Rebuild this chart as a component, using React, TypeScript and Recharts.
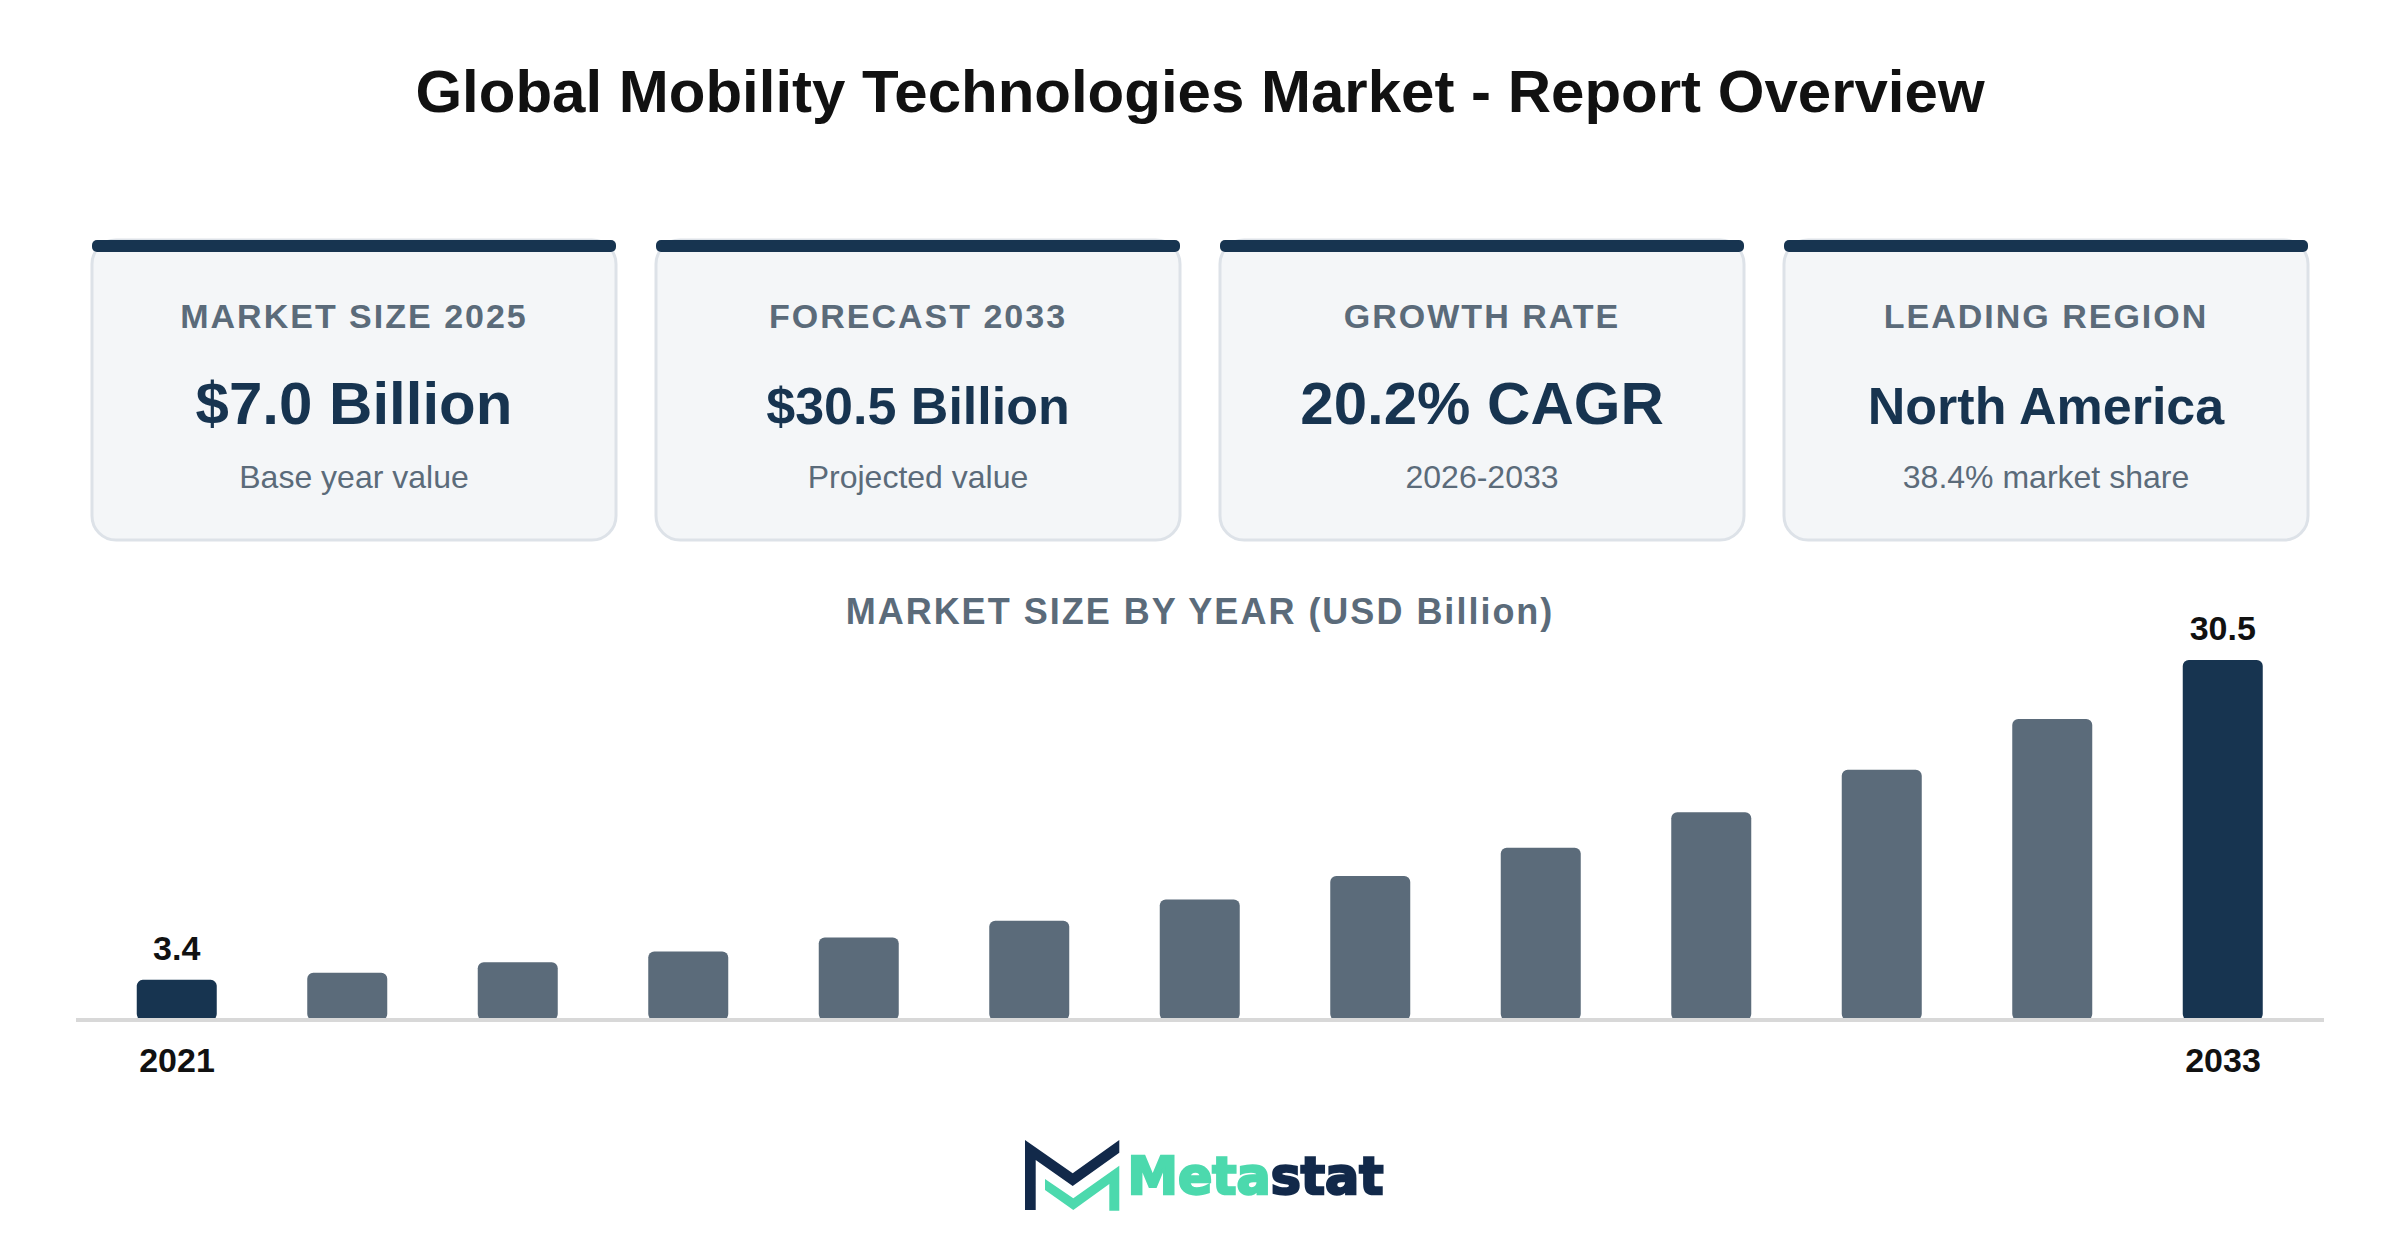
import { BarChart, Bar, XAxis, YAxis, Cell, LabelList, ReferenceLine } from "recharts";

const pageTitle = "Global Mobility Technologies Market - Report Overview";
const sectionTitle = "MARKET SIZE BY YEAR (USD Billion)";

const years = [2021, 2022, 2023, 2024, 2025, 2026, 2027, 2028, 2029, 2030, 2031, 2032, 2033];
const marketSize = [3.4, 4.0, 4.9, 5.8, 7.0, 8.4, 10.2, 12.2, 14.6, 17.6, 21.2, 25.5, 30.5];
const shownYears = [2021, 2033];

const cardLabels = ["MARKET SIZE 2025", "FORECAST 2033", "GROWTH RATE", "LEADING REGION"];
const cardValues = ["$7.0 Billion", "$30.5 Billion", "20.2% CAGR", "North America"];
const cardNotes = ["Base year value", "Projected value", "2026-2033", "38.4% market share"];
const cardValueSizes = [60, 52, 60, 52];

const NAVY = "#173450";
const SLATE = "#5b6b7a";
const INK = "#111111";
const RULE = "#d8d8d8";
const FONT = '"Liberation Sans", Arial, sans-serif';

const rows = years.map((year, i) => ({
  year,
  size: marketSize[i],
  label: shownYears.includes(year) ? marketSize[i].toFixed(1) : undefined,
}));

function Card({ index }: { index: number }) {
  const left = 92 + index * 564;
  const mid = left + 262;
  return (
    <g fontFamily={FONT} textAnchor="middle">
      <rect x={left} y={240} width={524} height={300} rx={24} fill="#f4f6f8" stroke="#dde2e8" strokeWidth={3} />
      <rect x={left} y={240} width={524} height={12} rx={5} fill={NAVY} />
      <text x={mid} y={328} fontSize={34} fontWeight={700} letterSpacing={2} fill={SLATE}>
        {cardLabels[index]}
      </text>
      <text x={mid} y={424} fontSize={cardValueSizes[index]} fontWeight={700} fill={NAVY}>
        {cardValues[index]}
      </text>
      <text x={mid} y={488} fontSize={32} fill={SLATE}>
        {cardNotes[index]}
      </text>
    </g>
  );
}

function Logo() {
  return (
    <g>
      <polygon
        points="1025,1140 1072.7,1173.3 1119.3,1140 1119.3,1152.7 1072.7,1186 1035.7,1160 1035.7,1210 1025,1210"
        fill="#12294a"
      />
      <polygon
        points="1045,1179 1073.3,1198.3 1119.3,1165.7 1119.3,1210.7 1109.3,1210.7 1109.3,1184 1073.3,1210 1045,1190"
        fill="#4cd9ad"
      />
      <text
        x={1127.5}
        y={1194}
        fontFamily="DejaVu Sans"
        fontWeight={700}
        fontSize={52}
        textLength={256}
        lengthAdjust="spacingAndGlyphs"
      >
        <tspan fill="#4cd9ad" stroke="#4cd9ad" strokeWidth={2.5}>Meta</tspan>
        <tspan fill="#12294a" stroke="#12294a" strokeWidth={2.5}>stat</tspan>
      </text>
    </g>
  );
}

export default function App() {
  return (
    <div style={{ position: "absolute", left: 0, top: 0, width: 2400, height: 1260, background: "#fff" }}>
      <svg width={2400} height={1260} style={{ position: "absolute", left: 0, top: 0 }}>
        <text x={1200} y={112} textAnchor="middle" fontFamily={FONT} fontSize={60} fontWeight={700} fill={INK}>
          {pageTitle}
        </text>
        {cardLabels.map((_, i) => (
          <Card key={i} index={i} />
        ))}
        <text
          x={1200}
          y={624}
          textAnchor="middle"
          fontFamily={FONT}
          fontSize={36}
          fontWeight={700}
          letterSpacing={2}
          fill={SLATE}
        >
          {sectionTitle}
        </text>
        <Logo />
      </svg>
      <div style={{ position: "absolute", left: 0, top: 0 }}>
        <BarChart
          width={2400}
          height={1260}
          data={rows}
          margin={{ top: 660, right: 76, bottom: 180, left: 76 }}
          style={{ fontFamily: FONT }}
        >
          <YAxis hide domain={[0, 30.5]} />
          <Bar dataKey="size" barSize={80} radius={6} isAnimationActive={false}>
            {rows.map((row) => (
              <Cell key={row.year} fill={shownYears.includes(row.year) ? NAVY : SLATE} />
            ))}
            <LabelList dataKey="label" position="top" offset={20} fill={INK} fontSize={34} fontWeight={700} />
          </Bar>
          <XAxis
            dataKey="year"
            ticks={shownYears}
            interval={0}
            height={60}
            padding={{ left: 15.75, right: 15.75 }}
            axisLine={{ stroke: RULE, strokeWidth: 4 }}
            tickLine={false}
            tickMargin={22}
            tick={{ fill: INK, fontSize: 34, fontWeight: 700 }}
          />
          {/* baseline again on top so the bars' feet tuck under it */}
          <ReferenceLine y={0} stroke={RULE} strokeWidth={4} ifOverflow="visible" />
        </BarChart>
      </div>
    </div>
  );
}
